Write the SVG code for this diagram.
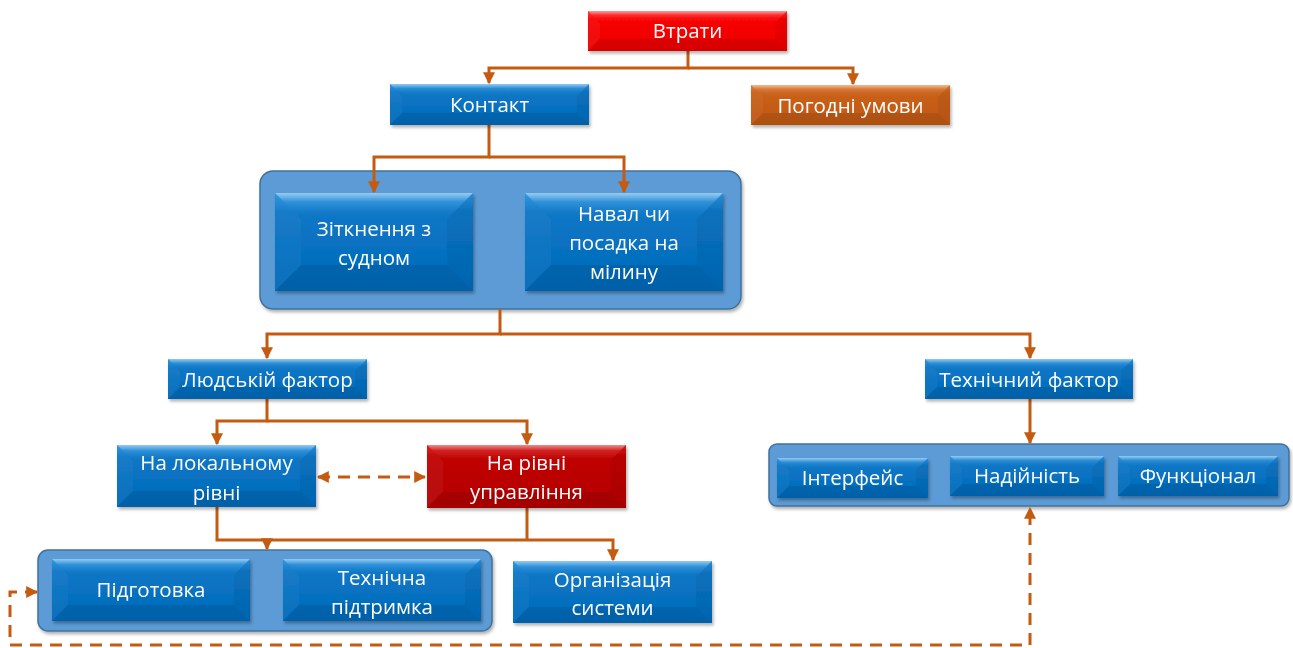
<svg xmlns="http://www.w3.org/2000/svg" width="1293" height="648" viewBox="0 0 1293 648">
<defs>
<linearGradient id="gBlue" x1="0" y1="0" x2="0" y2="1"><stop offset="0" stop-color="#2a95e2"/><stop offset="0.2" stop-color="#0c76c6"/><stop offset="1" stop-color="#006ab9"/></linearGradient>
<linearGradient id="gRed" x1="0" y1="0" x2="0" y2="1"><stop offset="0" stop-color="#ff3535"/><stop offset="0.2" stop-color="#f80000"/><stop offset="1" stop-color="#ec0000"/></linearGradient>
<linearGradient id="gDRed" x1="0" y1="0" x2="0" y2="1"><stop offset="0" stop-color="#d81a1a"/><stop offset="0.2" stop-color="#c00000"/><stop offset="1" stop-color="#b40000"/></linearGradient>
<linearGradient id="gOrange" x1="0" y1="0" x2="0" y2="1"><stop offset="0" stop-color="#e07a30"/><stop offset="0.2" stop-color="#c9601a"/><stop offset="1" stop-color="#c05812"/></linearGradient>
<linearGradient id="gTop" x1="0" y1="0" x2="0" y2="1"><stop offset="0" stop-color="#fff" stop-opacity="0.5"/><stop offset="0.35" stop-color="#fff" stop-opacity="0.08"/><stop offset="1" stop-color="#fff" stop-opacity="0"/></linearGradient>
<filter id="sh" x="-10%" y="-20%" width="130%" height="150%"><feDropShadow dx="1.5" dy="2.5" stdDeviation="1.8" flood-color="#000" flood-opacity="0.3"/></filter>
<marker id="arr" viewBox="0 0 10 10" refX="9" refY="5" markerWidth="12" markerHeight="12" markerUnits="userSpaceOnUse" orient="auto-start-reverse"><path d="M0,0 L10,5 L0,10 Z" fill="#c55a11"/></marker>
<style>
.c{fill:none;stroke:#c55a11;stroke-width:3}
.d{fill:none;stroke:#c55a11;stroke-width:3;stroke-dasharray:12 8}
.grp{fill:#5b9bd5;stroke:#41719c;stroke-width:1.5;filter:url(#sh)}
.b{fill:url(#gBlue)}
.r{fill:url(#gRed)}
.dr{fill:url(#gDRed)}
.o{fill:url(#gOrange)}
.tf{fill:url(#gTop)}
.lf{fill:#fff;fill-opacity:0.04}
.rf{fill:#000;fill-opacity:0.05}
.bf{fill:#000;fill-opacity:0.09}
.box{filter:url(#sh)}
text{font-family:"Open Sans","Noto Sans","Liberation Sans",sans-serif;font-size:20.5px;fill:#fff;text-anchor:middle}
</style>
</defs>
<rect width="1293" height="648" fill="#fff"/>

<g id="group-contact"><rect class="grp" x="260" y="171" width="481" height="138" rx="13"/></g>
<g id="group-tech"><rect class="grp" x="769" y="444" width="520" height="62" rx="8"/></g>
<g id="group-local"><rect class="grp" x="38" y="550" width="454" height="81" rx="10"/></g>

<g id="connectors">
<path class="c" d="M688,51 V68 H489 V83" marker-end="url(#arr)"/>
<path class="c" d="M688,68 H853 V84" marker-end="url(#arr)"/>
<path class="c" d="M489,125 V157 H374 V192" marker-end="url(#arr)"/>
<path class="c" d="M489,157 H624 V192" marker-end="url(#arr)"/>
<path class="c" d="M500,309 V334 H267 V358" marker-end="url(#arr)"/>
<path class="c" d="M500,334 H1030 V358" marker-end="url(#arr)"/>
<path class="c" d="M267,399 V421 H217 V444" marker-end="url(#arr)"/>
<path class="c" d="M267,421 H527 V444" marker-end="url(#arr)"/>
<path class="c" d="M1030,399 V443" marker-end="url(#arr)"/>
<path class="c" d="M217,507 V540 H613 V560" marker-end="url(#arr)"/>
<path class="c" d="M527,508 V540"/>
<path class="c" d="M267,540 V549" marker-end="url(#arr)"/>
<path class="d" d="M318,477 H425" marker-start="url(#arr)" marker-end="url(#arr)"/>
<path class="d" d="M37,592 H10 V645 H1030 V508" marker-start="url(#arr)" marker-end="url(#arr)"/>
</g>

<g id="n-vtraty" class="box" transform="translate(588,11)">
<rect class="r" width="199" height="40"/><polygon class="tf" points="0,0 199,0 187,12 12,12"/><polygon class="lf" points="0,0 12,12 12,28 0,40"/><polygon class="rf" points="199,0 199,40 187,28 187,12"/><polygon class="bf" points="0,40 12,28 187,28 199,40"/>
<text x="99.5" y="27">Втрати</text></g>

<g id="n-kontakt" class="box" transform="translate(390,84)">
<rect class="b" width="199" height="41"/><polygon class="tf" points="0,0 199,0 187,12 12,12"/><polygon class="lf" points="0,0 12,12 12,29 0,41"/><polygon class="rf" points="199,0 199,41 187,29 187,12"/><polygon class="bf" points="0,41 12,29 187,29 199,41"/>
<text x="99.5" y="28">Контакт</text></g>

<g id="n-pogoda" class="box" transform="translate(751,85)">
<rect class="o" width="199" height="40"/><polygon class="tf" points="0,0 199,0 187,12 12,12"/><polygon class="lf" points="0,0 12,12 12,28 0,40"/><polygon class="rf" points="199,0 199,40 187,28 187,12"/><polygon class="bf" points="0,40 12,28 187,28 199,40"/>
<text x="99.5" y="28">Погодні умови</text></g>

<g id="n-zitknennia" class="box" transform="translate(275,193)">
<rect class="b" width="198" height="98"/><polygon class="tf" points="0,0 198,0 172,26 26,26"/><polygon class="lf" points="0,0 26,26 26,72 0,98"/><polygon class="rf" points="198,0 198,98 172,72 172,26"/><polygon class="bf" points="0,98 26,72 172,72 198,98"/>
<text x="99" y="43">Зіткнення з</text><text x="99" y="72">судном</text></g>

<g id="n-naval" class="box" transform="translate(525,193)">
<rect class="b" width="198" height="98"/><polygon class="tf" points="0,0 198,0 172,26 26,26"/><polygon class="lf" points="0,0 26,26 26,72 0,98"/><polygon class="rf" points="198,0 198,98 172,72 172,26"/><polygon class="bf" points="0,98 26,72 172,72 198,98"/>
<text x="99" y="28">Навал чи</text><text x="99" y="57">посадка на</text><text x="99" y="86">мілину</text></g>

<g id="n-liudskyi" class="box" transform="translate(168,359)">
<rect class="b" width="199" height="40"/><polygon class="tf" points="0,0 199,0 187,12 12,12"/><polygon class="lf" points="0,0 12,12 12,28 0,40"/><polygon class="rf" points="199,0 199,40 187,28 187,12"/><polygon class="bf" points="0,40 12,28 187,28 199,40"/>
<text x="99.5" y="28">Людській фактор</text></g>

<g id="n-tekhnichnyi" class="box" transform="translate(925,359)">
<rect class="b" width="208" height="40"/><polygon class="tf" points="0,0 208,0 196,12 12,12"/><polygon class="lf" points="0,0 12,12 12,28 0,40"/><polygon class="rf" points="208,0 208,40 196,28 196,12"/><polygon class="bf" points="0,40 12,28 196,28 208,40"/>
<text x="104" y="28">Технічний фактор</text></g>

<g id="n-lokalnyi" class="box" transform="translate(117,445)">
<rect class="b" width="199" height="62"/><polygon class="tf" points="0,0 199,0 183,16 16,16"/><polygon class="lf" points="0,0 16,16 16,46 0,62"/><polygon class="rf" points="199,0 199,62 183,46 183,16"/><polygon class="bf" points="0,62 16,46 183,46 199,62"/>
<text x="99.5" y="25">На локальному</text><text x="99.5" y="55">рівні</text></g>

<g id="n-upravlinnia" class="box" transform="translate(427,445)">
<rect class="dr" width="199" height="63"/><polygon class="tf" points="0,0 199,0 183,16 16,16"/><polygon class="lf" points="0,0 16,16 16,47 0,63"/><polygon class="rf" points="199,0 199,63 183,47 183,16"/><polygon class="bf" points="0,63 16,47 183,47 199,63"/>
<text x="99.5" y="25">На рівні</text><text x="99.5" y="54">управління</text></g>

<g id="n-interfeis" class="box" transform="translate(777,458)">
<rect class="b" width="151" height="40"/><polygon class="tf" points="0,0 151,0 139,12 12,12"/><polygon class="lf" points="0,0 12,12 12,28 0,40"/><polygon class="rf" points="151,0 151,40 139,28 139,12"/><polygon class="bf" points="0,40 12,28 139,28 151,40"/>
<text x="75.5" y="27">Інтерфейс</text></g>

<g id="n-nadiinist" class="box" transform="translate(950,456)">
<rect class="b" width="154" height="40"/><polygon class="tf" points="0,0 154,0 142,12 12,12"/><polygon class="lf" points="0,0 12,12 12,28 0,40"/><polygon class="rf" points="154,0 154,40 142,28 142,12"/><polygon class="bf" points="0,40 12,28 142,28 154,40"/>
<text x="77" y="27">Надійність</text></g>

<g id="n-funktsional" class="box" transform="translate(1118,456)">
<rect class="b" width="160" height="40"/><polygon class="tf" points="0,0 160,0 148,12 12,12"/><polygon class="lf" points="0,0 12,12 12,28 0,40"/><polygon class="rf" points="160,0 160,40 148,28 148,12"/><polygon class="bf" points="0,40 12,28 148,28 160,40"/>
<text x="80" y="27">Функціонал</text></g>

<g id="n-pidgotovka" class="box" transform="translate(52,559)">
<rect class="b" width="198" height="62"/><polygon class="tf" points="0,0 198,0 182,16 16,16"/><polygon class="lf" points="0,0 16,16 16,46 0,62"/><polygon class="rf" points="198,0 198,62 182,46 182,16"/><polygon class="bf" points="0,62 16,46 182,46 198,62"/>
<text x="99" y="38">Підготовка</text></g>

<g id="n-pidtrymka" class="box" transform="translate(283,559)">
<rect class="b" width="198" height="62"/><polygon class="tf" points="0,0 198,0 182,16 16,16"/><polygon class="lf" points="0,0 16,16 16,46 0,62"/><polygon class="rf" points="198,0 198,62 182,46 182,16"/><polygon class="bf" points="0,62 16,46 182,46 198,62"/>
<text x="99" y="26">Технічна</text><text x="99" y="55">підтримка</text></g>

<g id="n-orhanizatsiia" class="box" transform="translate(513,561)">
<rect class="b" width="199" height="62"/><polygon class="tf" points="0,0 199,0 183,16 16,16"/><polygon class="lf" points="0,0 16,16 16,46 0,62"/><polygon class="rf" points="199,0 199,62 183,46 183,16"/><polygon class="bf" points="0,62 16,46 183,46 199,62"/>
<text x="99.5" y="26">Організація</text><text x="99.5" y="54">системи</text></g>
</svg>
